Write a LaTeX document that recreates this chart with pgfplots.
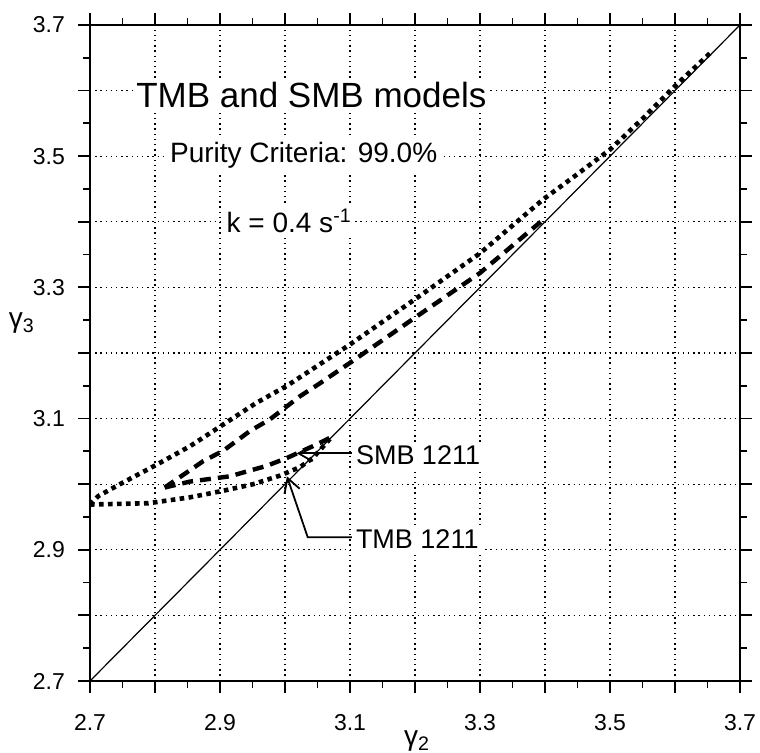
\documentclass[border=0pt]{standalone}
\usepackage{fontspec}
\setmainfont{Liberation Sans}
\usepackage{pgfplots}
\usepackage{pgfplotstable}
\pgfplotsset{compat=1.18}
\usetikzlibrary{arrows.meta}

% TMB boundaries (dotted)
\pgfplotstableread{
x y
2.700 2.969
2.713 2.982
2.746 3.000
2.803 3.030
2.854 3.058
2.905 3.091
2.956 3.124
3.003 3.150
3.100 3.213
3.203 3.284
3.300 3.352
3.397 3.434
3.449 3.472
3.500 3.510
3.551 3.558
3.600 3.607
3.654 3.657
}\tmbupper
\pgfplotstableread{
x y
2.700 2.969
2.790 2.971
2.854 2.980
2.905 2.990
2.951 3.000
2.992 3.013
3.023 3.026
3.043 3.040
3.069 3.069
}\tmblower
% SMB boundaries (dashed)
\pgfplotstableread{
x y
2.815 2.995
2.849 3.018
2.874 3.035
2.905 3.051
2.946 3.081
2.977 3.099
3.023 3.134
3.051 3.152
3.100 3.185
3.203 3.256
3.300 3.322
3.397 3.403
}\smbupper
\pgfplotstableread{
x y
2.815 2.995
2.854 3.004
2.915 3.012
2.972 3.028
3.003 3.040
3.043 3.058
3.072 3.072
}\smblower

\begin{document}
\begin{tikzpicture}
\useasboundingbox (-45pt,-36pt) rectangle (335pt,340.5pt);
\begin{axis}[
  scale only axis, width=325pt, height=328pt,
  xmin=2.7, xmax=3.7, ymin=2.7, ymax=3.7,
  xtick={2.7,2.8,2.9,3.0,3.1,3.2,3.3,3.4,3.5,3.6,3.7},
  xticklabels={2.7,,2.9,,3.1,,3.3,,3.5,,3.7},
  ytick={2.7,2.8,2.9,3.0,3.1,3.2,3.3,3.4,3.5,3.6,3.7},
  yticklabels={2.7,,2.9,,3.1,,3.3,,3.5,,3.7},
  minor tick num=1,
  tick align=outside,
  major tick length=6pt, minor tick length=3.5pt,
  every tick/.style={black, line width=0.9pt},
  grid=major,
  major grid style={black, line width=0.6pt, dash pattern=on 0.7pt off 1.9pt},
  axis line style={line width=1.1pt},
  tick label style={font=\fontsize{11.5}{14}\selectfont},
  xticklabel style={yshift=-7pt},
  yticklabel style={xshift=-3pt},
  xlabel={γ\textsubscript{2}},
  ylabel={γ\textsubscript{3}},
  label style={font=\fontsize{14}{16}\selectfont},
  xlabel style={at={(axis description cs:0.503,-0.092)}, anchor=center},
  ylabel style={rotate=-90, at={(axis description cs:-0.105,0.545)}, anchor=center},
]
\addplot[black, line width=0.6pt] coordinates {(2.7,2.7) (3.7,3.7)};
\addplot[black, line width=2.3pt, dash pattern=on 2.3pt off 2.2pt] table {\tmbupper};
\addplot[black, line width=2.3pt, dash pattern=on 2.3pt off 2.2pt] table {\tmblower};
\addplot[black, line width=2.2pt, dash pattern=on 5.5pt off 3.5pt] table {\smbupper};
\addplot[black, line width=2.2pt, dash pattern=on 5.5pt off 3.5pt] table {\smblower};

\node[anchor=base west, fill=white, inner sep=1.5pt, font=\fontsize{17.5}{20}\selectfont]
  at (axis cs:2.766,3.574) {TMB and SMB models};
\node[anchor=base west, fill=white, inner sep=1.5pt, font=\fontsize{14}{16}\selectfont]
  at (axis cs:2.818,3.490) {Purity Criteria: 99.0\%};
\node[anchor=base west, fill=white, inner sep=1.5pt, font=\fontsize{14}{16}\selectfont]
  at (axis cs:2.905,3.383) {k = 0.4 s\textsuperscript{-1}};

\draw[line width=0.9pt, -{Straight Barb[length=7pt,width=8pt,line width=0.9pt]}]
  (axis cs:3.103,3.047) -- (axis cs:3.018,3.047);
\node[anchor=west, fill=white, inner sep=1.5pt, font=\fontsize{13.5}{16}\selectfont]
  at (axis cs:3.104,3.044) {SMB 1211};
\draw[line width=0.9pt, -{Straight Barb[length=7pt,width=8pt,line width=0.9pt]}]
  (axis cs:3.103,2.919) -- (axis cs:3.035,2.919) -- (axis cs:3.003,3.012);
\node[anchor=west, fill=white, inner sep=1.5pt, font=\fontsize{13.5}{16}\selectfont]
  at (axis cs:3.104,2.917) {TMB 1211};
\end{axis}
\end{tikzpicture}
\end{document}
